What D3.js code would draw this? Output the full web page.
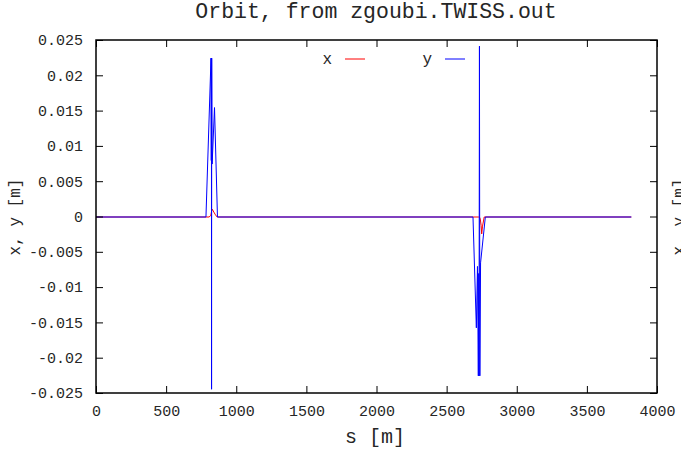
<!DOCTYPE html>
<html>
<head>
<meta charset="utf-8">
<script src="https://cdn.jsdelivr.net/npm/d3@7"></script>
<style>
  html, body { margin: 0; padding: 0; background: #fff; }
  svg { display: block; }
  text { font-family: "Liberation Mono", "DejaVu Sans Mono", monospace; fill: #262626; }
</style>
</head>
<body>
<svg id="chart" width="681" height="453"></svg>
<script>
// Closed orbit along the ring, horizontal (x) and vertical (y), in metres
const sX    = [0, 806, 818, 824, 829, 840, 852, 864, 2726, 2734, 2740, 2746, 2750, 2756, 2768, 3817];
const xVals = [0, 0, 0.0002, 0.0008, 0.0011, 0.0007, 0.0003, 0, 0, 0, -0.0003, -0.0012, -0.0024, -0.0013, 0, 0];

const sY    = [0, 784, 820, 822, 823, 824, 825, 828, 845, 866,
               2688, 2712, 2720, 2726, 2729, 2731, 2734, 2737, 2742, 2776, 3817];
const yVals = [0, 0, 0.0225, 0.0080, 0.0225, -0.0244, 0.0225, 0.0075, 0.0155, 0,
               0, -0.0157, -0.0070, -0.0225, -0.0080, -0.0225, 0.0242, -0.0225, -0.0065, 0, 0];

const xTicks = [0, 500, 1000, 1500, 2000, 2500, 3000, 3500, 4000];
const yTicks = [0.025, 0.02, 0.015, 0.01, 0.005, 0, -0.005, -0.01, -0.015, -0.02, -0.025];
const yTickLabels = ["0.025", "0.02", "0.015", "0.01", "0.005", "0", "-0.005", "-0.01", "-0.015", "-0.02", "-0.025"];

const seriesNames = ["x", "y"];
const seriesColors = ["#ff0000", "#0000ff"];

const svg = d3.select("#chart");
const L = 96, R = 657, T = 40, B = 393;

const xs = d3.scaleLinear().domain([0, 4000]).range([L, R]);
const ys = d3.scaleLinear().domain([-0.025, 0.025]).range([B, T]);

// Title
svg.append("text").attr("x", 376).attr("y", 18).attr("text-anchor", "middle")
  .style("font-size", "21.5px").text("Orbit, from zgoubi.TWISS.out");

// Data lines (clipped to the frame); the half-pixel shift lets x and y blend on the flat orbit
svg.append("clipPath").attr("id", "plotclip").append("rect")
  .attr("x", L).attr("y", T).attr("width", R - L).attr("height", B - T);

const line = d3.line().x(d => xs(d[0])).y(d => ys(d[1]));
const series = [d3.zip(sX, xVals), d3.zip(sY, yVals)];
const lines = svg.append("g").attr("clip-path", "url(#plotclip)")
  .append("g").attr("transform", "translate(0,0.5)");
series.forEach((pts, i) => {
  lines.append("path").datum(pts)
    .attr("d", line)
    .attr("fill", "none")
    .attr("stroke", seriesColors[i])
    .attr("stroke-width", 1);
});

// Ticks on all four sides, pointing inwards
const tickLen = 7;
const bottomAxis = d3.axisBottom(xs).tickValues(xTicks).tickSizeInner(-tickLen).tickSizeOuter(0).tickPadding(12).tickFormat(d3.format("d"));
const topAxis = d3.axisTop(xs).tickValues(xTicks).tickSizeInner(-tickLen).tickSizeOuter(0).tickFormat("");
const leftAxis = d3.axisLeft(ys).tickValues(yTicks).tickSizeInner(-tickLen).tickSizeOuter(0).tickPadding(13)
  .tickFormat((d, i) => yTickLabels[i]);
const rightAxis = d3.axisRight(ys).tickValues(yTicks).tickSizeInner(-tickLen).tickSizeOuter(0).tickFormat("");

function styleAxis(g) {
  g.select(".domain").remove();
  g.selectAll(".tick line").attr("stroke", "#000").attr("stroke-width", 1);
  g.selectAll(".tick text").style("font-size", "15px").attr("fill", "#262626");
}
svg.append("g").attr("transform", `translate(0,${B})`).call(bottomAxis).call(styleAxis);
svg.append("g").attr("transform", `translate(0,${T})`).call(topAxis).call(styleAxis);
svg.append("g").attr("transform", `translate(${L},0)`).call(leftAxis).call(styleAxis);
svg.append("g").attr("transform", `translate(${R},0)`).call(rightAxis).call(styleAxis);

// Frame
svg.append("rect").attr("x", L).attr("y", T).attr("width", R - L).attr("height", B - T)
  .attr("fill", "none").attr("stroke", "#000").attr("stroke-width", 1.5);

// Axis labels
svg.append("text").attr("x", 375).attr("y", 443).attr("text-anchor", "middle")
  .style("font-size", "20px").text("s  [m]");
svg.append("text").attr("transform", "translate(20,217) rotate(-90)").attr("text-anchor", "middle")
  .style("font-size", "16px").text("x, y [m]");
svg.append("text").attr("transform", "translate(684,217) rotate(-90)").attr("text-anchor", "middle")
  .style("font-size", "16px").text("x, y [m]");

// Key
const keyX = [332, 432], keyY = 59;
seriesNames.forEach((name, i) => {
  svg.append("text").attr("x", keyX[i]).attr("y", keyY + 5).attr("text-anchor", "end")
    .style("font-size", "16px").text(name);
  svg.append("line").attr("x1", keyX[i] + 13).attr("x2", keyX[i] + 33)
    .attr("y1", keyY).attr("y2", keyY)
    .attr("stroke", seriesColors[i]).attr("stroke-width", 1);
});
</script>
</body>
</html>
